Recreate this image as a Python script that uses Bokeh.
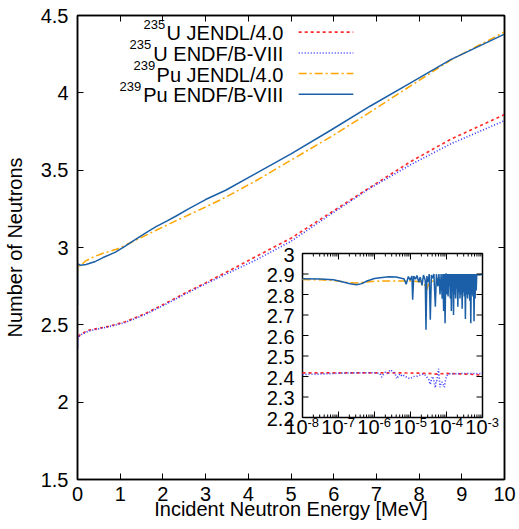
import numpy as np
from bokeh.plotting import figure
from bokeh.models import Range1d, LogScale, LinearAxis, FixedTicker
from bokeh.core.properties import value
from bokeh.embed import file_html
from bokeh.resources import INLINE

FONT = "Liberation Sans"

# ---------------- data ----------------
# Low-energy (resonance) region, log10(E / MeV), shown in the inset
pu_endf_logE_low = [-8.0, -7.5, -7.14, -6.9, -6.68, -6.5, -6.35, -6.21, -6.0, -5.84, -5.6, -5.4, -5.2,
                    -5.18, -5.12, -5.06, -5.01, -4.96, -4.94, -4.91, -4.86, -4.82, -4.77, -4.73, -4.68,
                    -4.64, -4.59, -4.57, -4.545, -4.51, -4.48, -4.45, -4.42, -4.38, -4.35, -4.31, -4.28,
                    -4.24, -4.21, -4.18, -4.15, -4.12, -4.10, -4.08, -4.06, -4.04, -4.02,
                    -4.00, -3.985, -3.97, -3.955, -3.94, -3.925, -3.91, -3.895, -3.88, -3.865, -3.85,
                    -3.835, -3.82, -3.805, -3.79, -3.775, -3.76, -3.745, -3.73, -3.715, -3.70, -3.685,
                    -3.67, -3.655, -3.64, -3.625, -3.61, -3.595, -3.58, -3.565, -3.55, -3.535, -3.52,
                    -3.505, -3.49, -3.475, -3.46, -3.445, -3.43, -3.415, -3.40, -3.385, -3.37, -3.355,
                    -3.34, -3.325, -3.31, -3.295, -3.28, -3.265, -3.25, -3.235, -3.22, -3.205, -3.19,
                    -3.175, -3.16, -3.0]
pu_endf_nu_low = [2.877, 2.876, 2.872, 2.862, 2.852, 2.848, 2.853, 2.866, 2.878, 2.882, 2.886, 2.885, 2.877,
                  2.877, 2.85, 2.888, 2.87, 2.89, 2.774, 2.89, 2.875, 2.893, 2.86, 2.885, 2.845,
                  2.895, 2.87, 2.628, 2.89, 2.86, 2.9, 2.677, 2.895, 2.88, 2.9, 2.74, 2.9,
                  2.84, 2.9, 2.80, 2.9, 2.78, 2.9, 2.72, 2.9, 2.66, 2.9,
                  2.90, 2.80, 2.90, 2.79, 2.90, 2.84, 2.90, 2.78, 2.90, 2.72, 2.90,
                  2.82, 2.90, 2.70, 2.90, 2.80, 2.90, 2.78, 2.90, 2.83, 2.90, 2.74,
                  2.90, 2.81, 2.90, 2.78, 2.90, 2.80, 2.90, 2.73, 2.90, 2.81, 2.90,
                  2.79, 2.90, 2.68, 2.90, 2.80, 2.90, 2.78, 2.90, 2.80, 2.90, 2.77,
                  2.90, 2.66, 2.90, 2.80, 2.90, 2.79, 2.90, 2.67, 2.90, 2.78, 2.90,
                  2.82, 2.895, 2.897]

pu_jendl_logE_low = [-8.0, -7.5, -7.0, -6.7, -6.5, -6.3, -6.0, -5.5, -5.0, -4.7, -4.6, -4.55, -4.5,
                     -4.4, -4.0, -3.5, -3.2, -3.0]
pu_jendl_nu_low = [2.873, 2.872, 2.866, 2.857, 2.856, 2.86, 2.865, 2.866, 2.866, 2.862, 2.845, 2.823, 2.85,
                   2.865, 2.87, 2.875, 2.885, 2.905]

u_jendl_logE_low = [-8.0, -7.0, -6.0, -5.0, -4.5, -4.3, -4.0, -3.5, -3.2, -3.0]
u_jendl_nu_low = [2.418, 2.418, 2.418, 2.417, 2.415, 2.412, 2.415, 2.412, 2.41, 2.405]

u_endf_logE_low = [-8.0, -7.5, -7.0, -6.5, -6.0, -5.85, -5.80, -5.75, -5.70, -5.63, -5.56, -5.5, -5.47,
                   -5.42, -5.38, -5.33, -5.29, -5.23, -5.18, -5.1, -5.01, -4.92, -4.82, -4.72, -4.64,
                   -4.58, -4.55, -4.5, -4.45, -4.41, -4.38, -4.34, -4.31, -4.29, -4.27, -4.24, -4.22,
                   -4.2, -4.18, -4.15, -4.12, -4.09, -4.06, -4.02, -3.99, -3.9, -3.5, -3.0]
u_endf_nu_low = [2.41, 2.412, 2.416, 2.418, 2.418, 2.415, 2.397, 2.41, 2.421, 2.415, 2.433, 2.425, 2.421,
                 2.41, 2.389, 2.405, 2.413, 2.40, 2.405, 2.395, 2.389, 2.40, 2.401, 2.408, 2.413,
                 2.405, 2.397, 2.39, 2.361, 2.39, 2.40, 2.37, 2.345, 2.38, 2.38, 2.41, 2.437,
                 2.39, 2.348, 2.372, 2.372, 2.36, 2.348, 2.39, 2.405, 2.413, 2.415, 2.415]

# Fast region, E in MeV
pu_endf_E = [0.01, 0.07, 0.2, 0.42, 0.6, 0.89, 1.1, 1.36, 1.6, 1.83, 2.1, 2.3, 2.6, 3.0, 3.47, 4.17,
             5.0, 5.93, 6.86, 7.8, 8.74, 10.0]
pu_endf_nu = [2.893, 2.886, 2.89, 2.91, 2.935, 2.97, 3.005, 3.052, 3.095, 3.133, 3.172, 3.202, 3.25,
              3.31, 3.37, 3.478, 3.605, 3.758, 3.915, 4.065, 4.215, 4.38]

pu_jendl_E = [0.01, 0.05, 0.19, 0.38, 0.62, 0.93, 1.36, 1.83, 2.3, 3.0, 3.47, 4.17, 5.0, 5.93, 6.86,
              7.8, 8.74, 10.0]
pu_jendl_nu = [2.905, 2.879, 2.913, 2.94, 2.965, 2.99, 3.047, 3.11, 3.172, 3.262, 3.325, 3.43, 3.565,
               3.715, 3.877, 4.045, 4.212, 4.394]

u_E = [0.01, 0.07, 0.26, 0.73, 1.12, 1.59, 2.06, 2.53, 3.0, 3.47, 4.17, 5.0, 5.93, 6.86, 7.8, 8.74, 10.0]
u_jendl_nu = [2.42, 2.44, 2.465, 2.49, 2.52, 2.573, 2.638, 2.707, 2.771, 2.838, 2.94, 3.06, 3.225, 3.39,
              3.555, 3.70, 3.86]
u_endf_nu = [2.415, 2.435, 2.46, 2.488, 2.515, 2.568, 2.632, 2.70, 2.765, 2.827, 2.918, 3.04, 3.215,
             3.385, 3.535, 3.67, 3.82]

# axes / ticks
x_ticks = [0, 1, 2, 3, 4, 5, 6, 7, 8, 9, 10]
y_ticks = [1.5, 2.0, 2.5, 3.0, 3.5, 4.0, 4.5]
y_tick_labels = ["1.5", "2", "2.5", "3", "3.5", "4", "4.5"]
inset_x_exp = [-8, -7, -6, -5, -4, -3]
inset_x_sup = ["-8", "-7", "-6", "-5", "-4", "-3"]
inset_minor_mult = [2, 3, 4, 5, 6, 7, 8, 9]
inset_y_ticks = [2.2, 2.3, 2.4, 2.5, 2.6, 2.7, 2.8, 2.9, 3.0]
inset_y_labels = ["2.2", "2.3", "2.4", "2.5", "2.6", "2.7", "2.8", "2.9", "3"]

# series: (superscript, label, colour, dash, width)
series = [
    ("235", "U JENDL/4.0", "#ff2a2a", "3 3", 1.7),
    ("235", "U ENDF/B-VIII", "#3333ff", "1 2", 1.6),
    ("239", "Pu JENDL/4.0", "#ffa500", "8 3 2 3", 1.5),
    ("239", "Pu ENDF/B-VIII", "#1a5fa8", "solid", 1.5),
]
label_widths = [118, 132, 128, 142]   # px widths of the main legend text, for superscript placement

# ---------------- layout ----------------
W, H = 519, 529
FL, FR, FT, FB = 77, 504, 15, 479          # main frame in canvas px
p = figure(width=W, height=H, x_range=Range1d(0, 10), y_range=Range1d(1.5, 4.5),
           output_backend="svg", toolbar_location=None,
           min_border_left=FL, min_border_right=W - FR, min_border_top=FT, min_border_bottom=H - FB)
p.grid.visible = False
p.outline_line_color = "black"
p.outline_line_width = 1.5
p.background_fill_color = "white"
p.border_fill_color = "white"

def style_axis(ax):
    ax.major_tick_in = 6
    ax.major_tick_out = 0
    ax.minor_tick_in = 0
    ax.minor_tick_out = 0
    ax.axis_line_width = 1.5
    ax.axis_line_color = "black"
    ax.major_tick_line_color = "black"
    ax.major_label_text_font = FONT
    ax.major_label_text_font_size = "20px"
    ax.major_label_text_color = "black"
    ax.axis_label_text_font = FONT
    ax.axis_label_text_font_size = "20px"
    ax.axis_label_text_font_style = "normal"
    ax.axis_label_text_color = "black"

xa = p.xaxis[0]
ya = p.yaxis[0]
style_axis(xa)
style_axis(ya)
xa.ticker = FixedTicker(ticks=x_ticks)
ya.ticker = FixedTicker(ticks=y_ticks)
ya.major_label_overrides = {t: s for t, s in zip(y_ticks, y_tick_labels)}
xa.axis_label = "Incident Neutron Energy [MeV]"
ya.axis_label = "Number of Neutrons"
xa.major_label_standoff = 7
xa.axis_label_standoff = -6
ya.major_label_standoff = 9
ya.axis_label_standoff = 12

top = LinearAxis(ticker=FixedTicker(ticks=x_ticks))
right = LinearAxis(ticker=FixedTicker(ticks=y_ticks))
for ax, ticks in ((top, x_ticks), (right, y_ticks)):
    style_axis(ax)
    ax.major_label_text_font_size = "0px"
    ax.major_label_standoff = 0
    ax.major_label_overrides = {t: "" for t in ticks}
p.add_layout(top, "above")
p.add_layout(right, "right")

# ---------------- main curves ----------------
full = [
    (np.concatenate([10.0 ** np.array(u_jendl_logE_low), u_E]), u_jendl_nu_low + u_jendl_nu),
    (np.concatenate([10.0 ** np.array(u_endf_logE_low), u_E]), u_endf_nu_low + u_endf_nu),
    (np.concatenate([10.0 ** np.array(pu_jendl_logE_low), pu_jendl_E]), pu_jendl_nu_low + pu_jendl_nu),
    (np.concatenate([10.0 ** np.array(pu_endf_logE_low), pu_endf_E]), pu_endf_nu_low + pu_endf_nu),
]
for (xs, ys), (sup, lab, col, dash, lw) in zip(full, series):
    p.line(xs, ys, line_color=col, line_dash=dash, line_width=lw)

# ---------------- legend (label left, sample right) ----------------
leg_rows_y = [4.392, 4.258, 4.125, 3.991]
leg_text_x = 4.82
leg_line_x0, leg_line_x1 = 5.18, 6.46
for yv, (sup, lab, col, dash, lw), wpx in zip(leg_rows_y, series, label_widths):
    p.line([leg_line_x0, leg_line_x1], [yv, yv], line_color=col, line_dash=dash, line_width=lw)
    p.text(x=[leg_text_x], y=[yv], text=[lab], text_align="right", text_baseline="middle",
           text_font=value(FONT), text_font_size="20px", text_color="black", y_offset=1)
    p.text(x=[leg_text_x], y=[yv], text=[sup], text_align="right", text_baseline="middle",
           text_font=value(FONT), text_font_size="13px", text_color="black",
           x_offset=-wpx, y_offset=-8)

# ---------------- inset ----------------
IL, IR, IT, IB = 302, 482, 253, 417        # inset frame in canvas px
ix_lo, ix_hi = inset_x_exp[0], inset_x_exp[-1]
iy_lo, iy_hi = inset_y_ticks[0], inset_y_ticks[-1]
dec_per_px = (ix_hi - ix_lo) / (IR - IL)
val_per_px = (iy_hi - iy_lo) / (IB - IT)
p.extra_x_ranges = {"ix": Range1d(10 ** (ix_lo - (IL - FL) * dec_per_px), 10 ** (ix_hi + (FR - IR) * dec_per_px))}
p.extra_x_scales = {"ix": LogScale()}
p.extra_y_ranges = {"iy": Range1d(iy_lo - (FB - IB) * val_per_px, iy_hi + (IT - FT) * val_per_px)}
R = dict(x_range_name="ix", y_range_name="iy")

x0i, x1i = 10.0 ** ix_lo, 10.0 ** ix_hi
p.quad(left=[x0i], right=[x1i], bottom=[iy_lo], top=[iy_hi], fill_color="white",
       line_color="black", line_width=1.5, **R)

lows = [(u_jendl_logE_low, u_jendl_nu_low), (u_endf_logE_low, u_endf_nu_low),
        (pu_jendl_logE_low, pu_jendl_nu_low), (pu_endf_logE_low, pu_endf_nu_low)]
for (lx, ly), (sup, lab, col, dash, lw) in zip(lows, series):
    p.line(10.0 ** np.array(lx), ly, line_color=col, line_dash=dash, line_width=lw, **R)

major_x = [10.0 ** e for e in inset_x_exp]
minor_x = [m * 10.0 ** e for e in inset_x_exp[:-1] for m in inset_minor_mult]
tick_kw = dict(line_color="black", line_width=1, length_units="screen", **R)
p.ray(x=major_x, y=[iy_lo] * len(major_x), length=6, angle=np.pi / 2, **tick_kw)
p.ray(x=major_x, y=[iy_hi] * len(major_x), length=6, angle=-np.pi / 2, **tick_kw)
p.ray(x=minor_x, y=[iy_lo] * len(minor_x), length=3, angle=np.pi / 2, **tick_kw)
p.ray(x=minor_x, y=[iy_hi] * len(minor_x), length=3, angle=-np.pi / 2, **tick_kw)
p.ray(x=[x0i] * len(inset_y_ticks), y=inset_y_ticks, length=6, angle=0, **tick_kw)
p.ray(x=[x1i] * len(inset_y_ticks), y=inset_y_ticks, length=6, angle=np.pi, **tick_kw)

p.text(x=[x0i] * len(inset_y_ticks), y=inset_y_ticks, text=inset_y_labels, text_align="right",
       text_baseline="middle", x_offset=-8, y_offset=1, text_font=value(FONT), text_font_size="20px",
       text_color="black", **R)
p.text(x=major_x, y=[iy_lo] * len(major_x), text=["10"] * len(major_x), text_align="right",
       text_baseline="top", x_offset=5, y_offset=2, text_font=value(FONT), text_font_size="20px",
       text_color="black", **R)
p.text(x=major_x, y=[iy_lo] * len(major_x), text=inset_x_sup, text_align="left",
       text_baseline="top", x_offset=5, y_offset=0, text_font=value(FONT), text_font_size="13px",
       text_color="black", **R)

open("out.html", "w").write(file_html(p, INLINE))
